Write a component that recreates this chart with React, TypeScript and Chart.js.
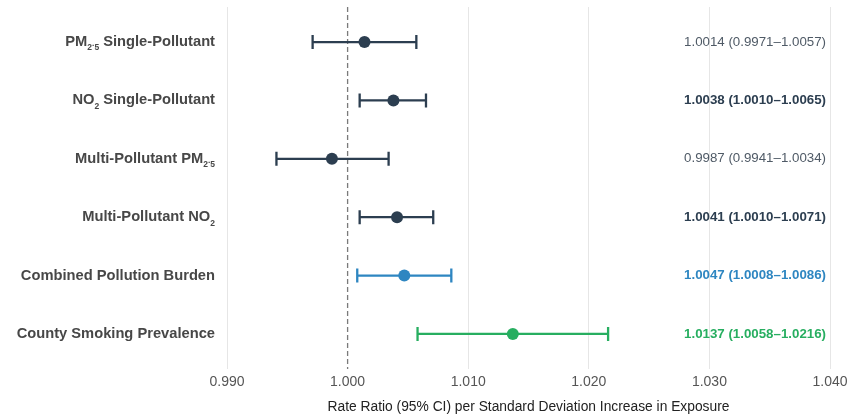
import React, { useEffect, useRef } from "react";
import { Chart, registerables } from "chart.js";

Chart.register(...registerables);

// Labels: text inside {} is drawn as a subscript
const categories = [
  "PM{2}.{5} Single-Pollutant",
  "NO{2} Single-Pollutant",
  "Multi-Pollutant PM{2}.{5}",
  "Multi-Pollutant NO{2}",
  "Combined Pollution Burden",
  "County Smoking Prevalence",
];
const estimates = [1.0014, 1.0038, 0.9987, 1.0041, 1.0047, 1.0137];
const lowerCI = [0.9971, 1.001, 0.9941, 1.001, 1.0008, 1.0058];
const upperCI = [1.0057, 1.0065, 1.0034, 1.0071, 1.0086, 1.0216];
const significant = [false, true, false, true, true, true];
const markColors = ["#2c3e50", "#2c3e50", "#2c3e50", "#2c3e50", "#2e86c1", "#27ae60"];
const xTicks = [0.99, 1.0, 1.01, 1.02, 1.03, 1.04];

const FONT = "'Liberation Sans', Arial, Helvetica, sans-serif";

function parseLabel(s: string) {
  const parts: { t: string; sub: boolean }[] = [];
  const re = /\{([^}]*)\}|([^{]+)/g;
  let m;
  while ((m = re.exec(s))) {
    if (m[1] !== undefined) parts.push({ t: m[1], sub: true });
    else parts.push({ t: m[2], sub: false });
  }
  return parts;
}

const forestPlugin = {
  id: "forest",
  beforeDatasetsDraw(chart: any) {
    const { ctx, scales, chartArea } = chart;
    const xs = scales.x;
    const ys = scales.y;
    ctx.save();
    // reference line at 1
    const x1 = xs.getPixelForValue(1.0);
    ctx.strokeStyle = "#7a7a7a";
    ctx.lineWidth = 1.3;
    ctx.setLineDash([5, 3]);
    ctx.beginPath();
    ctx.moveTo(x1, chartArea.top);
    ctx.lineTo(x1, chartArea.bottom);
    ctx.stroke();
    ctx.setLineDash([]);
    // error bars
    for (let i = 0; i < estimates.length; i++) {
      const y = ys.getPixelForValue(i);
      const xl = xs.getPixelForValue(lowerCI[i]);
      const xh = xs.getPixelForValue(upperCI[i]);
      ctx.strokeStyle = markColors[i];
      ctx.lineWidth = 2.3;
      ctx.beginPath();
      ctx.moveTo(xl, y);
      ctx.lineTo(xh, y);
      ctx.moveTo(xl, y - 7);
      ctx.lineTo(xl, y + 7);
      ctx.moveTo(xh, y - 7);
      ctx.lineTo(xh, y + 7);
      ctx.stroke();
    }
    ctx.restore();
  },
  afterDatasetsDraw(chart: any) {
    const { ctx, scales } = chart;
    const ys = scales.y;
    ctx.save();
    ctx.textBaseline = "middle";
    // category labels with subscripts
    for (let i = 0; i < categories.length; i++) {
      const y = ys.getPixelForValue(i);
      const parts = parseLabel(categories[i]);
      const mainFont = `bold 14.7px ${FONT}`;
      const subFont = `bold 8.5px ${FONT}`;
      let total = 0;
      const widths = parts.map((p) => {
        ctx.font = p.sub ? subFont : p.t === "." ? subFont : mainFont;
        const w = ctx.measureText(p.t).width;
        total += w;
        return w;
      });
      let x = 215 - total;
      ctx.textAlign = "left";
      ctx.fillStyle = "#474747";
      parts.forEach((p, k) => {
        if (p.sub) {
          ctx.font = subFont;
          ctx.fillText(p.t, x, y + 6);
        } else if (p.t === ".") {
          ctx.font = subFont;
          ctx.fillText(p.t, x, y + 2);
        } else {
          ctx.font = mainFont;
          ctx.fillText(p.t, x, y);
        }
        x += widths[k];
      });
      // estimate text on the right
      const txt = `${estimates[i].toFixed(4)} (${lowerCI[i].toFixed(4)}\u2013${upperCI[i].toFixed(4)})`;
      ctx.textAlign = "right";
      ctx.font = `${significant[i] ? "bold " : ""}13.3px ${FONT}`;
      ctx.fillStyle = significant[i] ? markColors[i] : "#4f5a66";
      ctx.fillText(txt, 826, y);
    }
    ctx.restore();
  },
};

export default function App() {
  const ref = useRef<HTMLCanvasElement>(null);
  useEffect(() => {
    if (!ref.current) return;
    const chart = new Chart(ref.current, {
      type: "scatter",
      data: {
        datasets: [
          {
            data: estimates.map((v, i) => ({ x: v, y: i })),
            backgroundColor: markColors,
            borderColor: markColors,
            pointRadius: 6,
            pointHoverRadius: 6,
            borderWidth: 0,
          },
        ],
      },
      options: {
        responsive: false,
        animation: false,
        events: [],
        layout: { padding: { left: 227, right: 18, top: 7, bottom: 0 } },
        plugins: { legend: { display: false }, tooltip: { enabled: false } },
        scales: {
          x: {
            type: "linear",
            min: 0.99,
            max: 1.04,
            afterBuildTicks: (axis: any) => {
              axis.ticks = xTicks.map((v) => ({ value: v }));
            },
            afterFit: (axis: any) => {
              axis.height = 48;
              axis.paddingLeft = 0;
              axis.paddingRight = 0;
            },
            ticks: {
              callback: (v: any) => Number(v).toFixed(3),
              color: "#555555",
              font: { family: FONT, size: 14 },
              padding: 5,
              maxRotation: 0,
              autoSkip: false,
            },
            grid: {
              color: (c: any) => (c.tick && Math.abs(c.tick.value - 1) < 1e-9 ? "rgba(0,0,0,0)" : "#e6e6e6"),
              lineWidth: 1,
              drawTicks: false,
            },
            border: { display: false },
            title: {
              display: true,
              text: "Rate Ratio (95% CI) per Standard Deviation Increase in Exposure",
              color: "#222222",
              font: { family: FONT, size: 13.8 },
              padding: { top: 4, bottom: 1.5 },
            },
          },
          y: {
            type: "linear",
            display: false,
            reverse: true,
            min: -0.6,
            max: 5.6,
          },
        },
      },
      plugins: [forestPlugin],
    });
    return () => chart.destroy();
  }, []);
  return (
    <div style={{ position: "fixed", left: 0, top: 0, width: 848, height: 417, background: "#fff" }}>
      <canvas ref={ref} width={848} height={417} style={{ display: "block" }} />
    </div>
  );
}
